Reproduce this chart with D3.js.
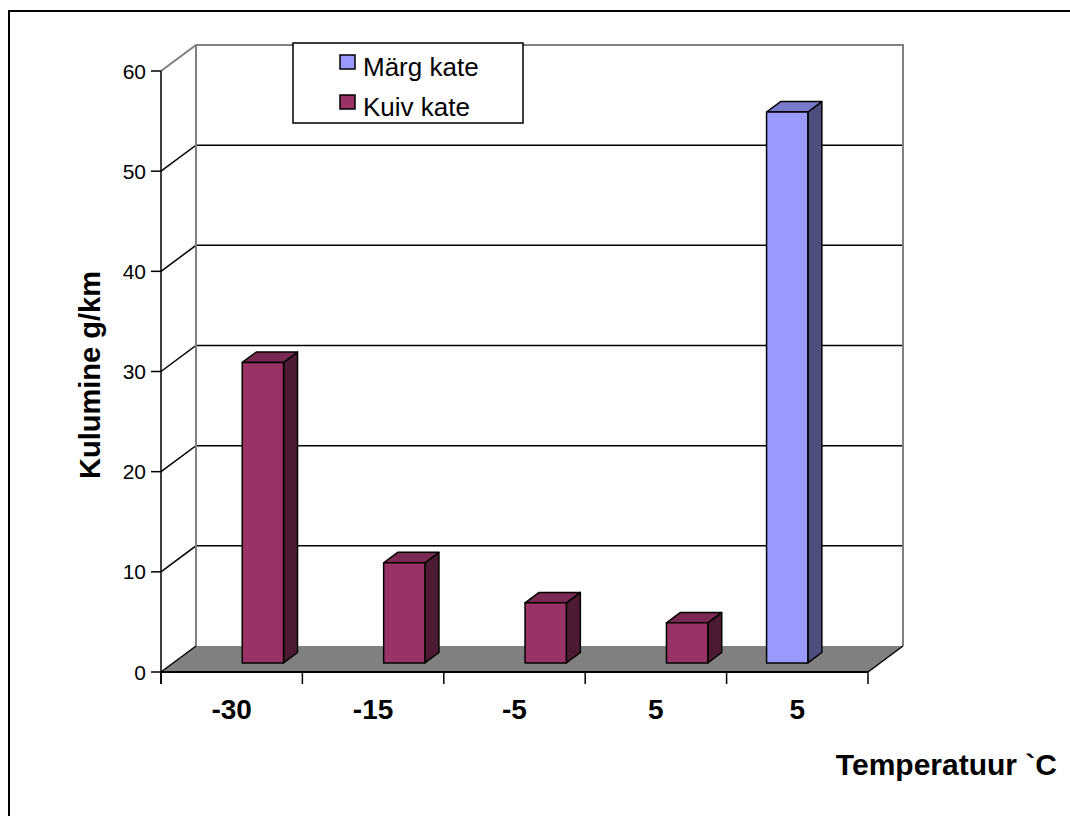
<!DOCTYPE html>
<html>
<head>
<meta charset="utf-8">
<script src="https://cdn.jsdelivr.net/npm/d3@7"></script>
<style>
  html, body { margin: 0; padding: 0; background: #fff; }
  svg { display: block; font-family: Arial, "Liberation Sans", sans-serif; }
</style>
</head>
<body>
<svg id="chart" width="1070" height="816"></svg>
<script>
// Wear of studded tyres on the road surface at different temperatures
const categories = ["-30", "-15", "-5", "5", "5"];
const seriesNames = ["Märg kate", "Kuiv kate"];
const margValues = [null, null, null, null, 55];
const kuivValues = [30, 10, 6, 4, null];
const yTicks = [0, 10, 20, 30, 40, 50, 60];
const yTitle = "Kulumine g/km";
const xTitle = "Temperatuur `C";

const seriesColors = {
  "Märg kate": { front: "#9999ff", top: "#7a7acc", side: "#4d4d80" },
  "Kuiv kate": { front: "#993366", top: "#7a2952", side: "#4d1a33" }
};

const svg = d3.select("#chart");

// outer chart frame
svg.append("rect")
  .attr("x", 9).attr("y", 11).attr("width", 1080).attr("height", 830)
  .attr("fill", "#fff").attr("stroke", "#000").attr("stroke-width", 2);

// front plane of the 3-D box
const left = 161, right = 868, base = 672, topY = 71;
const depthX = 35, depthY = 26;          // full depth offset of the box
const barFront = 0.35, barBack = 0.75;   // bar depth inside the box

const x0 = d3.scaleBand().domain(d3.range(categories.length)).range([left, right]);
const x1 = d3.scaleBand().domain(seriesNames)
  .range([0.196 * x0.bandwidth(), 0.78 * x0.bandwidth()]);
const y = d3.scaleLinear().domain([0, 60]).range([base, topY]);

const g = svg.append("g");

// floor
g.append("polygon")
  .attr("points", [[left, base], [right, base], [right + depthX, base - depthY], [left + depthX, base - depthY]].join(" "))
  .attr("fill", "#808080");

// gridlines on side and back walls
yTicks.filter(v => v > 0 && v < 60).forEach(v => {
  g.append("polyline")
    .attr("points", [[left, y(v)], [left + depthX, y(v) - depthY], [right + depthX, y(v) - depthY]].join(" "))
    .attr("fill", "none").attr("stroke", "#000").attr("stroke-width", 1.5);
});

// wall edges
const wallTop = y(60) - depthY;
g.append("polyline")
  .attr("points", [[left, y(60)], [left + depthX, wallTop], [right + depthX, wallTop], [right + depthX, base - depthY]].join(" "))
  .attr("fill", "none").attr("stroke", "#808080").attr("stroke-width", 2);
g.append("line")
  .attr("x1", left + depthX).attr("x2", left + depthX)
  .attr("y1", wallTop).attr("y2", base - depthY)
  .attr("stroke", "#808080").attr("stroke-width", 2);

// floor edges
g.append("polyline")
  .attr("points", [[left, base], [left + depthX, base - depthY]].join(" "))
  .attr("fill", "none").attr("stroke", "#000").attr("stroke-width", 1.5);
g.append("polyline")
  .attr("points", [[right, base], [right + depthX, base - depthY]].join(" "))
  .attr("fill", "none").attr("stroke", "#000").attr("stroke-width", 1.5);

// bars
const bars = [];
categories.forEach((c, i) => {
  if (margValues[i] != null) bars.push({ i, s: "Märg kate", v: margValues[i] });
  if (kuivValues[i] != null) bars.push({ i, s: "Kuiv kate", v: kuivValues[i] });
});

const fx = depthX * barFront, fy = depthY * barFront;
const bx = depthX * barBack, by = depthY * barBack;

bars.forEach(d => {
  const xl = x0(d.i) + x1(d.s);
  const w = x1.bandwidth();
  const yv = y(d.v), y0 = y(0);
  const col = seriesColors[d.s];
  const bg = g.append("g").attr("stroke", "#000").attr("stroke-width", 1.5).attr("stroke-linejoin", "round");
  bg.append("polygon")
    .attr("points", [[xl + w + fx, yv - fy], [xl + w + bx, yv - by], [xl + w + bx, y0 - by], [xl + w + fx, y0 - fy]].join(" "))
    .attr("fill", col.side);
  bg.append("polygon")
    .attr("points", [[xl + fx, yv - fy], [xl + w + fx, yv - fy], [xl + w + bx, yv - by], [xl + bx, yv - by]].join(" "))
    .attr("fill", col.top);
  bg.append("rect")
    .attr("x", xl + fx).attr("y", yv - fy)
    .attr("width", w).attr("height", y0 - yv)
    .attr("fill", col.front);
});

// y axis
const yAxis = g.append("g");
yAxis.append("line").attr("x1", left).attr("x2", left).attr("y1", y(60)).attr("y2", base + 12)
  .attr("stroke", "#000").attr("stroke-width", 1.5);
yTicks.forEach(v => {
  yAxis.append("line").attr("x1", left - 10).attr("x2", left).attr("y1", y(v)).attr("y2", y(v))
    .attr("stroke", "#000").attr("stroke-width", 1.5);
  yAxis.append("text").attr("x", left - 15).attr("y", y(v)).attr("dy", "0.36em")
    .attr("text-anchor", "end").attr("font-size", 21).text(v);
});

// x axis
const xAxis = g.append("g");
xAxis.append("line").attr("x1", left).attr("x2", right).attr("y1", base).attr("y2", base)
  .attr("stroke", "#000").attr("stroke-width", 2);
d3.range(categories.length + 1).forEach(k => {
  const xv = k < categories.length ? x0(k) : right;
  xAxis.append("line").attr("x1", xv).attr("x2", xv).attr("y1", base).attr("y2", base + 12)
    .attr("stroke", "#000").attr("stroke-width", 1.5);
});
categories.forEach((c, i) => {
  xAxis.append("text").attr("x", x0(i) + x0.bandwidth() / 2).attr("y", 719)
    .attr("text-anchor", "middle").attr("font-size", 28).attr("font-weight", "bold").text(c);
});

// axis titles
svg.append("text").attr("transform", "translate(100,375) rotate(-90)")
  .attr("text-anchor", "middle").attr("font-size", 29).attr("font-weight", "bold").text(yTitle);
svg.append("text").attr("x", 1057).attr("y", 775)
  .attr("text-anchor", "end").attr("font-size", 30).attr("font-weight", "bold").text(xTitle);

// legend
const legend = svg.append("g");
legend.append("rect").attr("x", 293).attr("y", 43).attr("width", 230).attr("height", 80)
  .attr("fill", "#fff").attr("stroke", "#000").attr("stroke-width", 1.5);
seriesNames.forEach((s, k) => {
  const ly = 62 + k * 40;
  legend.append("rect").attr("x", 340).attr("y", ly - 7).attr("width", 15).attr("height", 14)
    .attr("fill", seriesColors[s].front).attr("stroke", "#000").attr("stroke-width", 1.5);
  legend.append("text").attr("x", 363).attr("y", ly + 14)
    .attr("font-size", 26).text(s);
});
</script>
</body>
</html>
